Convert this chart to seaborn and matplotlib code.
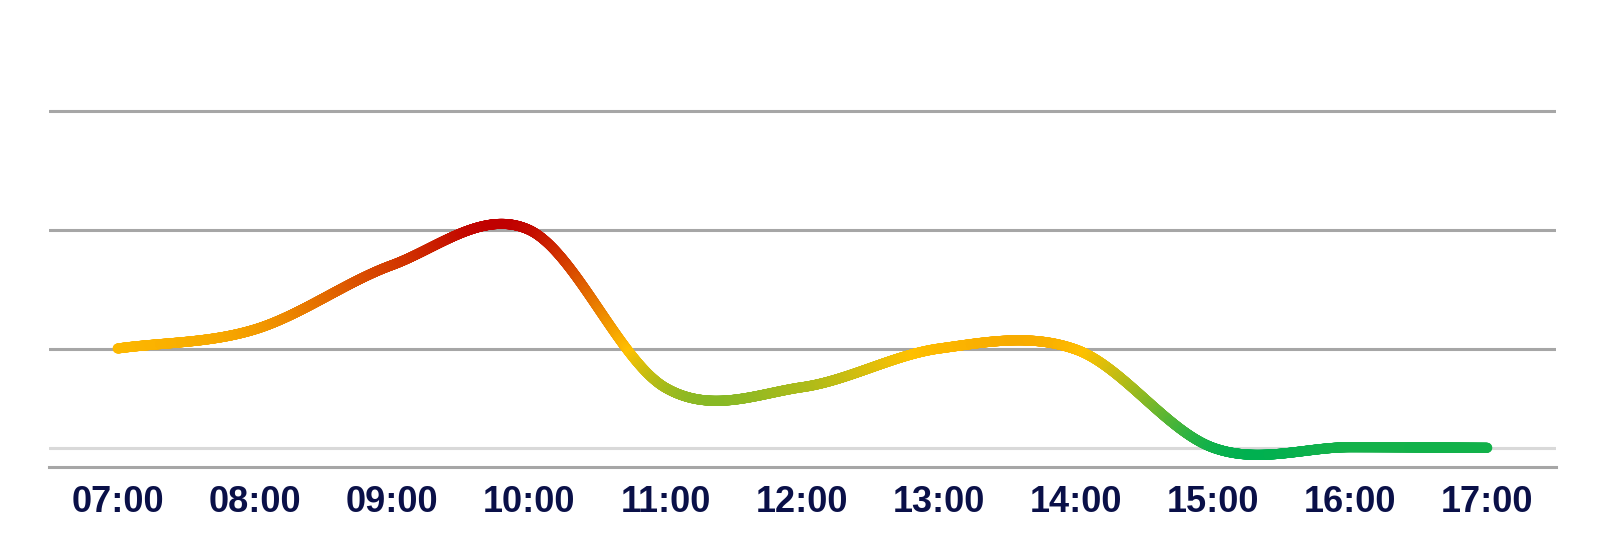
import numpy as np
import pandas as pd
import matplotlib
matplotlib.use("Agg")
import matplotlib.pyplot as plt
import seaborn as sns
from matplotlib.colors import LinearSegmentedColormap

hours = [7, 8, 9, 10, 11, 12, 13, 14, 15, 16, 17]
hour_labels = ["07:00", "08:00", "09:00", "10:00", "11:00", "12:00",
               "13:00", "14:00", "15:00", "16:00", "17:00"]
values = [1.0, 1.16, 1.70, 2.0, 0.67, 0.675, 1.0, 0.99, 0.165, 0.17, 0.165]
baseline = 0.165
grid_levels = [1, 2, 3]


def catmull_rom(x, y, n=400):
    # smooth curve through the points, like the chart's "smooth" line
    x = np.asarray(x, float)
    y = np.asarray(y, float)
    m = np.zeros_like(y)
    m[1:-1] = (y[2:] - y[:-2]) / (x[2:] - x[:-2])
    m[0] = (y[1] - y[0]) / (x[1] - x[0])
    m[-1] = (y[-1] - y[-2]) / (x[-1] - x[-2])
    xs, ys = [], []
    for i in range(len(x) - 1):
        h = x[i + 1] - x[i]
        t = np.linspace(0, 1, n, endpoint=(i == len(x) - 2))
        h00 = 2 * t**3 - 3 * t**2 + 1
        h10 = t**3 - 2 * t**2 + t
        h01 = -2 * t**3 + 3 * t**2
        h11 = t**3 - t**2
        xs.append(x[i] + t * h)
        ys.append(h00 * y[i] + h10 * h * m[i] + h01 * y[i + 1] + h11 * h * m[i + 1])
    return np.concatenate(xs), np.concatenate(ys)


sx, sy = catmull_rom(hours, values)
curve = pd.DataFrame({"hour": sx, "value": sy})

sns.set_theme(style="white")
plt.rcParams["font.family"] = ["Liberation Sans", "DejaVu Sans"]

cmap = LinearSegmentedColormap.from_list(
    "traffic", [(0.0, "#00B050"), (0.44, "#FFC000"), (1.0, "#C00000")])

fig = plt.figure(figsize=(16.07, 5.53), dpi=100)
ax = fig.add_axes([0.0306, 0.1548, 0.9375, 0.774])

ax.axhline(baseline, color="#D9D9D9", lw=2.2, zorder=1)

sns.scatterplot(data=curve, x="hour", y="value", hue="value", palette=cmap,
                hue_norm=(0.1, 2.05), s=52, linewidth=0, legend=False,
                ax=ax, zorder=3)

ax.set_xlim(6.5, 17.5)
ax.set_ylim(0, 3.6)
ax.set_yticks(grid_levels)
ax.set_yticklabels([])
ax.set_xticks(hours)
ax.set_xticklabels(hour_labels, fontsize=26, fontweight="bold", color="#0A1048")
ax.tick_params(axis="both", length=0)
ax.tick_params(axis="x", pad=13)
ax.grid(axis="y", color="#A6A6A6", lw=2.2, zorder=0)
ax.set_axisbelow(True)
ax.set_xlabel("")
ax.set_ylabel("")
for side in ["top", "left", "right"]:
    ax.spines[side].set_visible(False)
ax.spines["bottom"].set_color("#A6A6A6")
ax.spines["bottom"].set_linewidth(2.2)

fig.savefig("out.png", dpi=100, facecolor="white")
